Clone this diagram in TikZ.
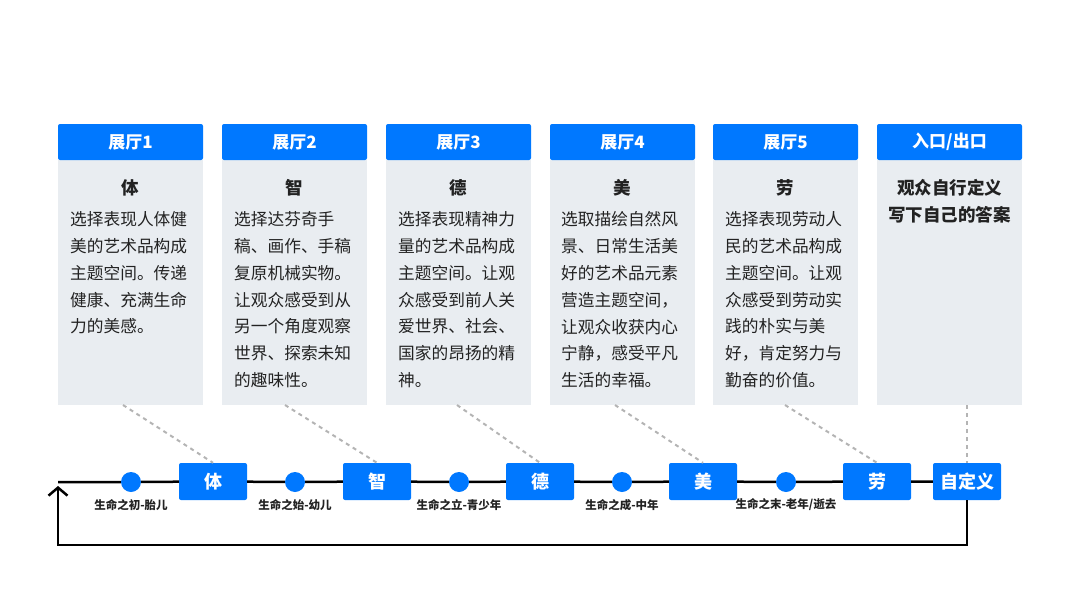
\documentclass[tikz,border=0pt]{standalone}
\usepackage{fontspec}
\setmainfont{Noto Sans CJK SC}
\usetikzlibrary{arrows.meta}
\definecolor{hblue}{HTML}{0078FF}
\definecolor{bodygray}{HTML}{E9EDF1}
\definecolor{txtc}{HTML}{222222}
\definecolor{dashc}{HTML}{B4B4B4}
\begin{document}
\begin{tikzpicture}[x=1pt,y=-1pt,
  hdr/.style={fill=hblue,text=white,minimum width=145pt,minimum height=36pt,inner sep=0pt,
    rounded corners=2pt,font=\fontsize{17}{20}\selectfont\bfseries},
  bodybox/.style={fill=bodygray,minimum width=145pt,minimum height=245pt,inner sep=0pt,anchor=north},
  ttl/.style={text=txtc,inner sep=0pt,font=\fontsize{17.5}{20}\selectfont\bfseries},
  txt/.style={text=txtc,inner sep=0pt,anchor=north west,align=left,font=\fontsize{16.7}{26.8}\selectfont},
  dot/.style={circle,fill=hblue,minimum size=20pt,inner sep=0pt},
  tbox/.style={fill=hblue,text=white,minimum width=68pt,minimum height=37pt,inner sep=0pt,
    rounded corners=2pt,font=\fontsize{18}{20}\selectfont\bfseries},
  lbl/.style={text=txtc,inner sep=0pt,font=\fontsize{11.5}{14}\selectfont\bfseries},
  tl/.style={line width=2.5pt,black},
  dsh/.style={dashc,line width=2pt,dash pattern=on 4pt off 4pt}
]
\useasboundingbox (0,0) rectangle (1080,608);

% columns
\node[bodybox] (b1) at (130.5,160) {};
\node[bodybox] (b2) at (294.5,160) {};
\node[bodybox] (b3) at (458.5,160) {};
\node[bodybox] (b4) at (622.5,160) {};
\node[bodybox] (b5) at (785.5,160) {};
\node[bodybox] (b6) at (949.5,160) {};
\node[hdr] (h1) at (130.5,142) {展厅1};
\node[hdr] (h2) at (294.5,142) {展厅2};
\node[hdr] (h3) at (458.5,142) {展厅3};
\node[hdr] (h4) at (622.5,142) {展厅4};
\node[hdr] (h5) at (785.5,142) {展厅5};
\node[hdr] (h6) at (949.5,142) {入口/出口};

\node[ttl] (g1) at (130.5,188) {体};
\node[ttl] (g2) at (294.5,188) {智};
\node[ttl] (g3) at (458.5,188) {德};
\node[ttl] (g4) at (622.5,188) {美};
\node[ttl] (g5) at (785.5,188) {劳};
\node[ttl] (g6a) at (949.5,188) {观众自行定义};
\node[ttl] (g6b) at (949.5,215) {写下自己的答案};

\node[txt] (p1) at (70,211.5) {选择表现人体健\\美的艺术品构成\\主题空间。传递\\健康、充满生命\\力的美感。};
\node[txt] (p2) at (234,211.5) {选择达芬奇手\\稿、画作、手稿\\复原机械实物。\\让观众感受到从\\另一个角度观察\\世界、探索未知\\的趣味性。};
\node[txt] (p3) at (398,211.5) {选择表现精神力\\量的艺术品构成\\主题空间。让观\\众感受到前人关\\爱世界、社会、\\国家的昂扬的精\\神。};
\node[txt] (p4) at (561,211.5) {选取描绘自然风\\景、日常生活美\\好的艺术品元素\\营造主题空间，\\让观众收获内心\\宁静，感受平凡\\生活的幸福。};
\node[txt] (p5) at (725,211.5) {选择表现劳动人\\民的艺术品构成\\主题空间。让观\\众感受到劳动实\\践的朴实与美\\好，肯定努力与\\勤奋的价值。};

% timeline
\node[dot] (c1) at (131,482) {};
\node[dot] (c2) at (295,482) {};
\node[dot] (c3) at (459,482) {};
\node[dot] (c4) at (622,482) {};
\node[dot] (c5) at (786,482) {};
\node[tbox] (t1) at (213,481.5) {体};
\node[tbox] (t2) at (377,481.5) {智};
\node[tbox] (t3) at (540,481.5) {德};
\node[tbox] (t4) at (703,481.5) {美};
\node[tbox] (t5) at (877,481.5) {劳};
\node[tbox] (t6) at (967,481.5) {自定义};

\node[lbl] (l1) at (131,505) {生命之初-胎儿};
\node[lbl] (l2) at (295,505) {生命之始-幼儿};
\node[lbl] (l3) at (459,505) {生命之立-青少年};
\node[lbl] (l4) at (622,505) {生命之成-中年};
\node[lbl] (l5) at (786,505) {生命之末-老年/逝去};

\coordinate (st) at (58,482);
\coordinate (rc) at (58,545);
\coordinate (tip) at (58,486);
\draw[tl] (st) -- (c1) -- (t1) -- (c2) -- (t2) -- (c3) -- (t3) -- (c4) -- (t4) -- (c5) -- (t5) -- (t6);
\draw[tl,-{Straight Barb[length=8pt,width=19pt,line width=2.5pt]}] (t6.south) |- (rc) -- (tip);

% dashed connectors
\coordinate (d1) at (123,405);
\coordinate (d2) at (285,405);
\coordinate (d3) at (457,405);
\coordinate (d4) at (615,405);
\coordinate (d5) at (785,405);
\coordinate (d6) at (967,405);
\draw[dsh] (d1) -- (t1.north);
\draw[dsh] (d2) -- (t2.north);
\draw[dsh] (d3) -- (t3.north);
\draw[dsh] (d4) -- (t4.north);
\draw[dsh] (d5) -- (t5.north);
\draw[dsh] (d6) -- (t6.north);
\end{tikzpicture}
\end{document}
